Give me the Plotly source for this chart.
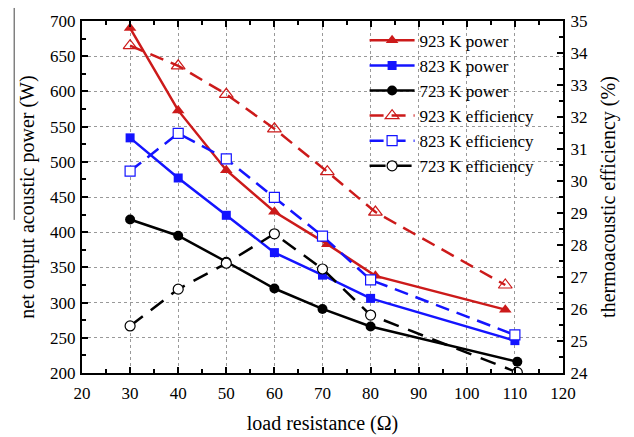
import plotly.graph_objects as go

# ---- data ----
x_923 = [30, 40, 50, 60, 71, 81, 108]
p_923 = [690, 573, 488, 429, 383, 338, 290]
e_923 = [34.23, 33.60, 32.71, 31.63, 30.29, 29.03, 26.75]

x_823 = [30, 40, 50, 60, 70, 80, 110]
p_823 = [534, 477, 424, 371, 339, 306, 246]
e_823 = [30.31, 31.49, 30.69, 29.49, 28.28, 26.91, 25.19]

x_723 = [30, 40, 50, 60, 70, 80, 110.5]
p_723 = [418, 395, 358, 320, 291, 266, 216]
e_723 = [25.47, 26.62, 27.43, 28.35, 27.25, 25.81, 24.02]

RED = "#cc1a1a"
BLUE = "#1414ff"
BLACK = "#000000"
FONT = "Liberation Serif, Times New Roman, Times, serif"

fig = go.Figure()

fig.add_trace(go.Scatter(x=x_923, y=p_923, name="923 K power", mode="lines+markers",
                         line=dict(color=RED, width=2.5),
                         marker=dict(symbol="triangle-up", size=11, color=RED)))
fig.add_trace(go.Scatter(x=x_823, y=p_823, name="823 K power", mode="lines+markers",
                         line=dict(color=BLUE, width=2.5),
                         marker=dict(symbol="square", size=9, color=BLUE)))
fig.add_trace(go.Scatter(x=x_723, y=p_723, name="723 K power", mode="lines+markers",
                         line=dict(color=BLACK, width=2.5),
                         marker=dict(symbol="circle", size=10, color=BLACK)))

fig.add_trace(go.Scatter(x=x_923, y=e_923, name="923 K efficiency", mode="lines+markers", yaxis="y2",
                         line=dict(color=RED, width=2.5, dash="14px,8px"),
                         marker=dict(symbol="triangle-up-open", size=12, color=RED,
                                     line=dict(width=1.2))))
fig.add_trace(go.Scatter(x=x_823, y=e_823, name="823 K efficiency", mode="lines+markers", yaxis="y2",
                         line=dict(color=BLUE, width=2.5, dash="14px,8px"),
                         marker=dict(symbol="square", size=10, color="white",
                                     line=dict(width=1.2, color=BLUE))))
fig.add_trace(go.Scatter(x=x_723, y=e_723, name="723 K efficiency", mode="lines+markers", yaxis="y2",
                         line=dict(color=BLACK, width=2.5, dash="16px,10px"),
                         marker=dict(symbol="circle", size=10, color="white",
                                     line=dict(width=1.2, color=BLACK))))

tickfont = dict(family=FONT, size=17, color="black")
titlefont = dict(family=FONT, size=20, color="black")

fig.update_layout(
    width=634, height=437,
    margin=dict(l=82, r=71, t=21, b=64),
    paper_bgcolor="white", plot_bgcolor="white",
    font=dict(family=FONT, color="black"),
    showlegend=True,
    legend=dict(x=0.5875, y=0.995, xanchor="left", yanchor="top",
                bgcolor="rgba(0,0,0,0)", font=dict(family=FONT, size=17, color="black"),
                tracegroupgap=0, itemwidth=45),
    xaxis=dict(range=[20, 120], dtick=10, tick0=20, showgrid=True,
               gridcolor="#999999", griddash="dot", gridwidth=1,
               showline=True, linecolor="black", linewidth=2, mirror="ticks",
               ticks="inside", ticklen=6, tickwidth=1.5, tickcolor="black",
               minor=dict(dtick=5, ticks="inside", ticklen=4, tickcolor="black", showgrid=False),
               tickfont=tickfont, zeroline=False, automargin=False, ticklabelstandoff=4,
               title=dict(text="load resistance (Ω)", font=titlefont, standoff=14)),
    yaxis=dict(range=[200, 700], dtick=50, tick0=200, showgrid=True,
               gridcolor="#999999", griddash="dot", gridwidth=1,
               showline=True, linecolor="black", linewidth=2,
               ticks="inside", ticklen=6, tickwidth=1.5, tickcolor="black",
               minor=dict(dtick=25, ticks="inside", ticklen=4, tickcolor="black", showgrid=False),
               tickfont=tickfont, zeroline=False, automargin=False, ticklabelstandoff=1,
               title=dict(text="net output acoustic power (W)", font=titlefont, standoff=10)),
    yaxis2=dict(range=[24, 35], dtick=1, tick0=24, overlaying="y", side="right",
                showgrid=False, showline=True, linecolor="black", linewidth=2,
                ticks="inside", ticklen=6, tickwidth=1.5, tickcolor="black",
                minor=dict(dtick=0.5, ticks="inside", ticklen=4, tickcolor="black"),
                tickfont=tickfont, zeroline=False, automargin=False, ticklabelstandoff=2,
                title=dict(text="thermoacoustic efficiency (%)", font=titlefont, standoff=14)),
    shapes=[dict(type="line", xref="paper", yref="paper",
                 x0=-0.141, x1=-0.141, y0=1.037, y1=0.435,
                 line=dict(color="#444444", width=1))],
)

fig.write_html("out.html", config={"displayModeBar": False},
               post_script="document.body.style.margin='0px';")
